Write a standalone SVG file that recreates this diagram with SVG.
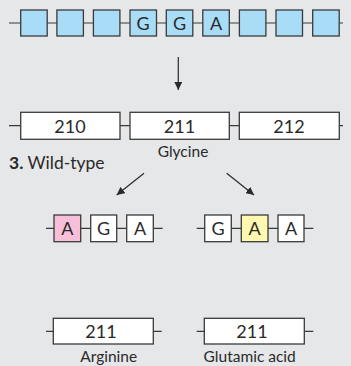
<svg xmlns="http://www.w3.org/2000/svg" width="351" height="366" viewBox="0 0 351 366">
<defs>
<style>
.ln{stroke:#3a3a3a;stroke-width:1.2;fill:none}
.bx{stroke:#3a3a3a;stroke-width:1.3}
.b{fill:#a9dcf6}
.w{fill:#ffffff}
.p{fill:#f7c0d8}
.y{fill:#fff8b0}
.t{font-family:Lato,"Open Sans",sans-serif;fill:#2a2a2a;text-anchor:middle}
.big{font-size:18px}
.sm{font-size:15.5px}
.arr{stroke:#2a2a2a;stroke-width:1.2;fill:none;marker-end:url(#ah)}
</style>
<marker id="ah" viewBox="0 0 10 10" refX="10" refY="5" markerWidth="8" markerHeight="8" markerUnits="userSpaceOnUse" orient="auto">
<path d="M0,0 L10,5 L0,10 z" fill="#2a2a2a"/>
</marker>
</defs>
<rect width="351" height="366" fill="#e6e7e9"/>
<g id="connectors">
<line class="ln" x1="9" y1="23" x2="343" y2="23"/>
<line class="ln" x1="9" y1="125.7" x2="343" y2="125.7"/>
<line class="ln" x1="46" y1="228.3" x2="162.7" y2="228.3"/>
<line class="ln" x1="196.7" y1="228.3" x2="313.3" y2="228.3"/>
<line class="ln" x1="46" y1="331.3" x2="161.7" y2="331.3"/>
<line class="ln" x1="196.7" y1="331.3" x2="313.3" y2="331.3"/>
<line class="arr" x1="178.3" y1="57" x2="178.3" y2="90"/>
<line class="arr" x1="144" y1="173.3" x2="116.7" y2="195"/>
<line class="arr" x1="226.7" y1="173.3" x2="254" y2="195"/>
</g>
<g id="dna">
<rect class="bx b" x="20.7" y="10" width="26.5" height="26"/>
<rect class="bx b" x="56.9" y="10" width="26.5" height="26"/>
<rect class="bx b" x="93.4" y="10" width="26.5" height="26"/>
<rect class="bx b" x="130" y="10" width="26.5" height="26"/>
<text class="t big" x="143.2" y="30">G</text>
<rect class="bx b" x="166.3" y="10" width="26.5" height="26"/>
<text class="t big" x="179.5" y="30">G</text>
<rect class="bx b" x="202.8" y="10" width="26.5" height="26"/>
<text class="t big" x="216" y="30">A</text>
<rect class="bx b" x="239.4" y="10" width="26.5" height="26"/>
<rect class="bx b" x="276" y="10" width="26.5" height="26"/>
<rect class="bx b" x="312.7" y="10" width="26.5" height="26"/>
</g>
<g id="protein">
<rect class="bx w" x="20.7" y="112.3" width="99.3" height="27"/>
<text class="t big" x="70" y="132.5">210</text>
<rect class="bx w" x="130" y="112.3" width="99.3" height="27"/>
<text class="t big" x="179.5" y="132.5">211</text>
<rect class="bx w" x="239.3" y="112.3" width="100" height="27"/>
<text class="t big" x="289" y="132.5">212</text>
<text class="t sm" x="183" y="157">Glycine</text>
</g>
<g id="label">
<text x="9" y="169" style="font-family:Lato,'Open Sans',sans-serif;font-size:17.5px;fill:#2a2a2a"><tspan font-weight="bold">3.</tspan> Wild-type</text>
</g>
<g id="mutant1">
<rect class="bx p" x="54" y="215" width="26.7" height="26.7"/>
<text class="t big" x="67.3" y="235">A</text>
<rect class="bx w" x="90.7" y="215" width="26" height="26.7"/>
<text class="t big" x="103.7" y="235">G</text>
<rect class="bx w" x="126.7" y="215" width="26.6" height="26.7"/>
<text class="t big" x="140" y="235">A</text>
</g>
<g id="mutant2">
<rect class="bx w" x="204.7" y="215" width="26.6" height="26.7"/>
<text class="t big" x="218" y="235">G</text>
<rect class="bx y" x="241.3" y="215" width="26.7" height="26.7"/>
<text class="t big" x="254.6" y="235">A</text>
<rect class="bx w" x="278" y="215" width="26" height="26.7"/>
<text class="t big" x="291" y="235">A</text>
</g>
<g id="arginine">
<rect class="bx w" x="53.3" y="318.3" width="100" height="25.7"/>
<text class="t big" x="101" y="338">211</text>
<text class="t sm" x="108.7" y="362">Arginine</text>
</g>
<g id="glutamic">
<rect class="bx w" x="204.3" y="318.3" width="100" height="25.7"/>
<text class="t big" x="252" y="338">211</text>
<text class="t sm" x="249.7" y="362">Glutamic acid</text>
</g>
</svg>
